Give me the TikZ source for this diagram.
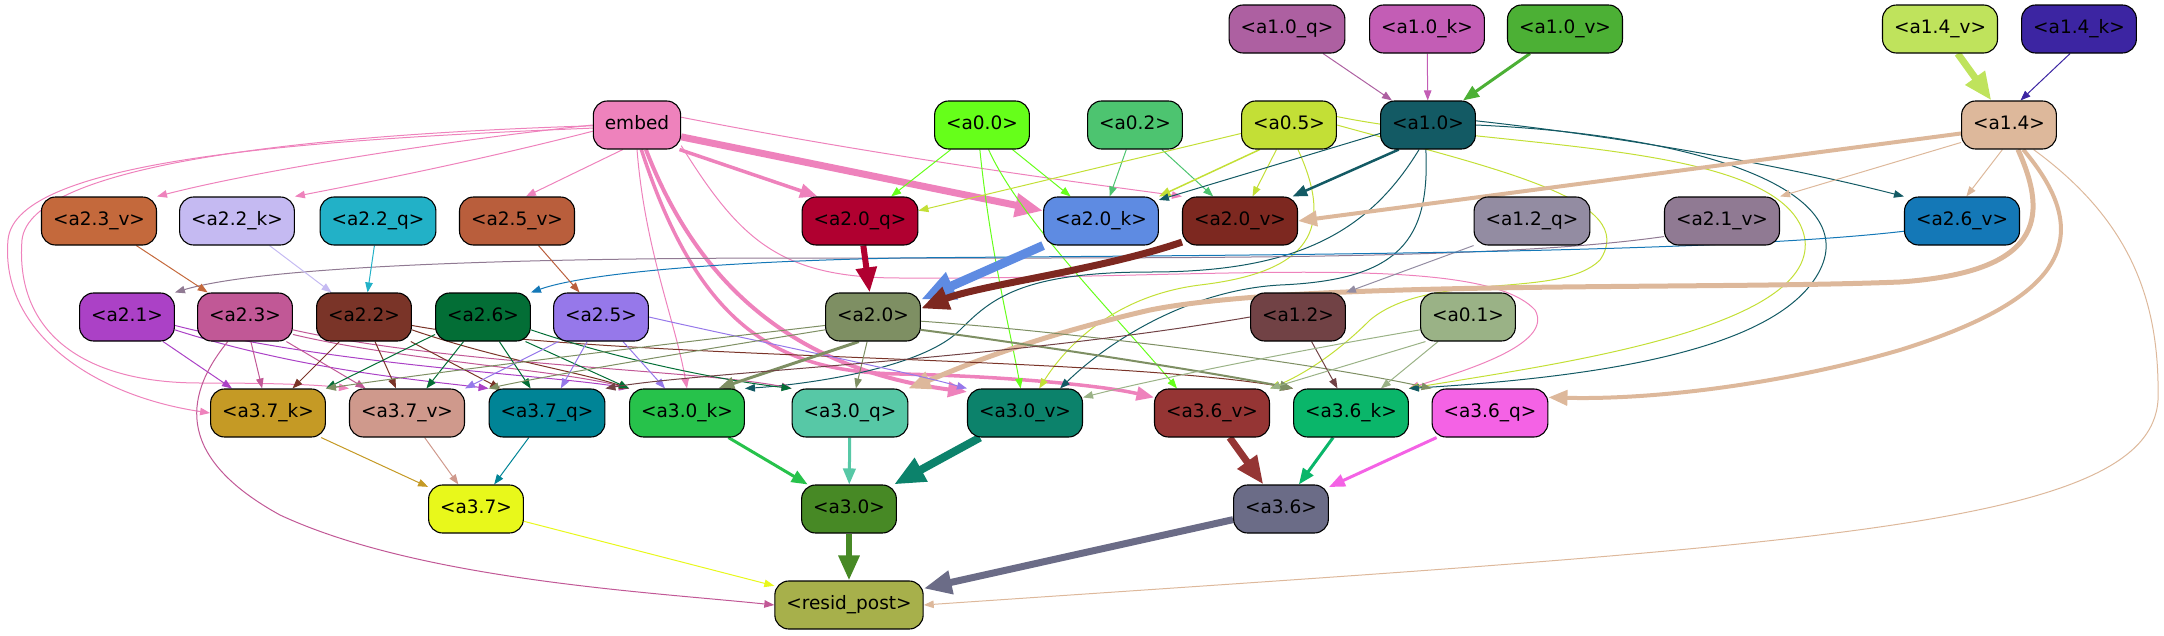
\documentclass[tikz,border=0pt]{standalone}
\usepackage{fontspec}
\newfontfamily\nodefnt{DejaVu Sans}
\usetikzlibrary{arrows.meta}
\pgfdeclarelayer{bg}
\pgfsetlayers{bg,main}
\definecolor{cemb}{HTML}{EE82BC}
\definecolor{c00}{HTML}{66FF1A}
\definecolor{c02}{HTML}{4DC470}
\definecolor{c05}{HTML}{C3DF36}
\definecolor{c10}{HTML}{135A64}
\definecolor{c10q}{HTML}{AD60A1}
\definecolor{c10k}{HTML}{C35DB5}
\definecolor{c10v}{HTML}{4CB035}
\definecolor{c14v}{HTML}{BFE35C}
\definecolor{c14k}{HTML}{3C25A2}
\definecolor{c14}{HTML}{DDB89B}
\definecolor{c23v}{HTML}{C4693C}
\definecolor{c22k}{HTML}{C5BAF2}
\definecolor{c22q}{HTML}{22B1C7}
\definecolor{c25v}{HTML}{B95E3C}
\definecolor{c20q}{HTML}{B00030}
\definecolor{c20k}{HTML}{5E8BE2}
\definecolor{c20v}{HTML}{7D2820}
\definecolor{c12q}{HTML}{938CA2}
\definecolor{c21v}{HTML}{907A93}
\definecolor{c26v}{HTML}{1478B7}
\definecolor{c21}{HTML}{AB41C6}
\definecolor{c23}{HTML}{C15896}
\definecolor{c22}{HTML}{7A3428}
\definecolor{c26}{HTML}{036E36}
\definecolor{c25}{HTML}{9678EA}
\definecolor{c20}{HTML}{7E8F63}
\definecolor{c12}{HTML}{714245}
\definecolor{c01}{HTML}{9AB286}
\definecolor{c37k}{HTML}{C59A25}
\definecolor{c37v}{HTML}{CF998C}
\definecolor{c37q}{HTML}{008496}
\definecolor{c30k}{HTML}{27C24B}
\definecolor{c30q}{HTML}{57C8A6}
\definecolor{c30v}{HTML}{0C826B}
\definecolor{c36v}{HTML}{953534}
\definecolor{c36k}{HTML}{0AB66A}
\definecolor{c36q}{HTML}{F462E5}
\definecolor{c37}{HTML}{E8F81B}
\definecolor{c30}{HTML}{478925}
\definecolor{c36}{HTML}{6B6C87}
\definecolor{cres}{HTML}{A7B04B}
\begin{document}
\begin{tikzpicture}[x=1pt,y=-1pt,
  nd/.style={draw=black, line width=1.1pt, fill=#1, rounded corners=14pt,
    minimum height=48pt, inner xsep=11.5pt, inner ysep=0pt,
    text height=13.5pt, text depth=4.5pt,
    font=\nodefnt\fontsize{18.5}{22}\selectfont},
  ln/.style={line width=#1pt, -{Triangle[length=7pt 3, width=5pt 2.5]}}
]
\useasboundingbox (0,0) rectangle (2164,635);
% nodes
\node[nd=c10q] (n10q) at (1287,29) {<a1.0\_q>};
\node[nd=c10k] (n10k) at (1427,29) {<a1.0\_k>};
\node[nd=c10v] (n10v) at (1565,29) {<a1.0\_v>};
\node[nd=c14v] (n14v) at (1940,29) {<a1.4\_v>};
\node[nd=c14k] (n14k) at (2079,29) {<a1.4\_k>};
\node[nd=cemb] (emb) at (637,125) {embed};
\node[nd=c00] (n00) at (982,125) {<a0.0>};
\node[nd=c02] (n02) at (1135,125) {<a0.2>};
\node[nd=c05] (n05) at (1289,125) {<a0.5>};
\node[nd=c10] (n10) at (1428,125) {<a1.0>};
\node[nd=c14] (n14) at (2009,125) {<a1.4>};
\node[nd=c23v] (n23v) at (99,221) {<a2.3\_v>};
\node[nd=c22k] (n22k) at (237,221) {<a2.2\_k>};
\node[nd=c22q] (n22q) at (378,221) {<a2.2\_q>};
\node[nd=c25v] (n25v) at (517,221) {<a2.5\_v>};
\node[nd=c20q] (n20q) at (860,221) {<a2.0\_q>};
\node[nd=c20k] (n20k) at (1101,221) {<a2.0\_k>};
\node[nd=c20v] (n20v) at (1240,221) {<a2.0\_v>};
\node[nd=c12q] (n12q) at (1532,221) {<a1.2\_q>};
\node[nd=c21v] (n21v) at (1722,221) {<a2.1\_v>};
\node[nd=c26v] (n26v) at (1962,221) {<a2.6\_v>};
\node[nd=c21] (n21) at (127,317) {<a2.1>};
\node[nd=c23] (n23) at (245,317) {<a2.3>};
\node[nd=c22] (n22) at (364,317) {<a2.2>};
\node[nd=c26] (n26) at (483,317) {<a2.6>};
\node[nd=c25] (n25) at (601,317) {<a2.5>};
\node[nd=c20] (n20) at (873,317) {<a2.0>};
\node[nd=c12] (n12) at (1298,317) {<a1.2>};
\node[nd=c01] (n01) at (1468,317) {<a0.1>};
\node[nd=c37k] (n37k) at (268,413) {<a3.7\_k>};
\node[nd=c37v] (n37v) at (407,413) {<a3.7\_v>};
\node[nd=c37q] (n37q) at (547,413) {<a3.7\_q>};
\node[nd=c30k] (n30k) at (687,413) {<a3.0\_k>};
\node[nd=c30q] (n30q) at (850,413) {<a3.0\_q>};
\node[nd=c30v] (n30v) at (1025,413) {<a3.0\_v>};
\node[nd=c36v] (n36v) at (1212,413) {<a3.6\_v>};
\node[nd=c36k] (n36k) at (1351,413) {<a3.6\_k>};
\node[nd=c36q] (n36q) at (1490,413) {<a3.6\_q>};
\node[nd=c37] (n37) at (476,509) {<a3.7>};
\node[nd=c30] (n30) at (849,509) {<a3.0>};
\node[nd=c36] (n36) at (1281,509) {<a3.6>};
\node[nd=cres] (res) at (849,605) {<resid\_post>};
\begin{pgfonlayer}{bg}
% top
\draw[ln=1,c10q] (n10q) -- (n10);
\draw[ln=1,c10k] (n10k) -- (n10);
\draw[ln=3,c10v] (n10v) -- (n10);
\draw[ln=7,c14v] (n14v) -- (n14);
\draw[ln=1,c14k] (n14k.250) -- (n14.65);
% embed
\draw[ln=1,cemb] (emb.west) .. controls (450,140) and (260,170) .. (n23v.north east);
\draw[ln=1,cemb] (emb.188) .. controls (480,160) and (380,180) .. (n22k.north east);
\draw[ln=1,cemb] (emb.240) -- (n25v.70);
\draw[ln=3.5,cemb] (emb.330) -- (n20q.150);
\draw[ln=7,cemb] (emb.345) -- (n20k.170);
\draw[ln=1,cemb] (emb.10) .. controls (900,160) and (1100,185) .. (n20v.north west);
\draw[ln=1,cemb] (emb.south) .. controls (645,250) and (675,320) .. (n30k.north);
\draw[ln=4,cemb] (emb.290) .. controls (700,290) and (800,370) .. (n30v.160);
\draw[ln=3.5,cemb] (emb.280) .. controls (700,330) and (780,372) .. (900,374) .. controls (1000,376) and (1100,385) .. (n36v.165);
\draw[ln=1,cemb] (emb.184) .. controls (300,140) and (15,160) .. (8,240) .. controls (0,330) and (90,395) .. (n37k.west);
\draw[ln=1,cemb] (emb.181) .. controls (300,135) and (30,165) .. (22,240) .. controls (15,330) and (80,383) .. (200,383) .. controls (280,383) and (320,385) .. (n37v.north west);
\draw[ln=1,cemb] (emb.335) .. controls (740,240) and (780,278) .. (900,278) .. controls (1200,280) and (1480,250) .. (1535,310) .. controls (1555,345) and (1460,372) .. (n36k.north east);
% a0.0
\draw[ln=1,c00] (n00) -- (n20q);
\draw[ln=1,c00] (n00) -- (n20k);
\draw[ln=1,c00] (n00.265) .. controls (990,250) and (1010,330) .. (n30v.100);
\draw[ln=1,c00] (n00.285) .. controls (1020,220) and (1120,320) .. (n36v.145);
% a0.2
\draw[ln=1,c02] (n02) -- (n20k);
\draw[ln=1,c02] (n02) -- (n20v);
% a0.5
\draw[ln=1,c05] (n05.190) -- (n20q.10);
\draw[ln=1.5,c05] (n05.220) -- (n20k.north east);
\draw[ln=1,c05] (n05) -- (n20v);
\draw[ln=1,c05] (n05.290) .. controls (1335,230) and (1310,272) .. (1200,285) .. controls (1120,295) and (1070,340) .. (n30v.60);
\draw[ln=1,c05] (n05.east) .. controls (1500,170) and (1640,200) .. (1600,260) .. controls (1560,300) and (1430,270) .. (1370,320) .. controls (1330,360) and (1295,378) .. (n36v.north east);
\draw[ln=1,c05] (n05.10) .. controls (1500,150) and (1790,140) .. (1805,240) .. controls (1815,330) and (1550,365) .. (n36k.north east);
% a1.0
\draw[ln=1,c10] (n10.190) -- (n20k.20);
\draw[ln=2.5,c10] (n10.220) -- (n20v.25);
\draw[ln=1,c10] (n10.5) .. controls (1650,140) and (1800,170) .. (n26v.north west);
\draw[ln=1,c10] (n10.east) .. controls (1700,135) and (1860,190) .. (1820,270) .. controls (1780,350) and (1600,377) .. (n36k.north east);
\draw[ln=1,c10] (n10.265) .. controls (1430,240) and (1400,280) .. (1280,285) .. controls (1190,290) and (1110,340) .. (n30v.35);
\draw[ln=1,c10] (n10.250) .. controls (1370,230) and (1300,272) .. (1150,272) .. controls (1020,272) and (990,300) .. (960,330) .. controls (920,370) and (800,385) .. (n30k.north east);
% a1.4
\draw[ln=4,c14] (n14.190) -- (n20v.east);
\draw[ln=1,c14] (n14.200) -- (n21v.north east);
\draw[ln=1,c14] (n14.255) -- (n26v.80);
\draw[ln=5,c14] (n14.290) .. controls (2050,220) and (2040,272) .. (1900,282) .. controls (1700,290) and (1300,280) .. (1150,310) .. controls (1020,340) and (950,372) .. (n30q.north east);
\draw[ln=4,c14] (n14.300) .. controls (2100,240) and (2060,300) .. (1900,350) .. controls (1780,385) and (1650,400) .. (n36q.15);
\draw[ln=1,c14] (n14.315) .. controls (2130,220) and (2160,300) .. (2158,400) .. controls (2150,530) and (1800,545) .. (res.east);
% level 2 inputs
\draw[ln=1,c12q] (n12q.south west) -- (n12.north east);
\draw[ln=1,c21v] (n21v.195) .. controls (1500,260) and (1200,258) .. (800,258) .. controls (450,258) and (250,270) .. (n21.north east);
\draw[ln=1,c26v] (n26v.190) .. controls (1700,255) and (1200,255) .. (900,258) .. controls (700,262) and (580,275) .. (n26.north east);
\draw[ln=1,c23v] (n23v) -- (n23);
\draw[ln=1,c22k] (n22k) -- (n22);
\draw[ln=1,c22q] (n22q) -- (n22);
\draw[ln=1,c25v] (n25v) -- (n25);
\draw[ln=6,c20q] (n20q) -- (n20);
\draw[ln=9,c20k] (n20k.south west) -- (n20.20);
\draw[ln=7,c20v] (n20v.200) .. controls (1100,270) and (980,285) .. (n20.10);
% level 2 -> level 3
\draw[ln=1,c21] (n21) -- (n37k);
\draw[ln=1,c21] (n21.345) .. controls (300,370) and (420,380) .. (n37q.north west);
\draw[ln=1,c21] (n21.350) .. controls (330,365) and (550,375) .. (n30k.north west);
\draw[ln=1,c23] (n23) -- (n37k);
\draw[ln=1,c23] (n23) -- (n37v);
\draw[ln=1,c23] (n23.340) .. controls (400,360) and (560,370) .. (n30k.north west);
\draw[ln=1,c23] (n23.345) .. controls (450,365) and (700,370) .. (n30q.north west);
\draw[ln=1,c23] (n23.235) .. controls (180,400) and (180,460) .. (280,515) .. controls (420,580) and (650,592) .. (res.west);
\draw[ln=1,c22] (n22) -- (n37k);
\draw[ln=1,c22] (n22) -- (n37v);
\draw[ln=1,c22] (n22) -- (n37q);
\draw[ln=1,c22] (n22.345) .. controls (500,360) and (580,372) .. (n30k.north west);
\draw[ln=1,c22] (n22.350) .. controls (600,360) and (1100,355) .. (n36k.north west);
\draw[ln=1,c26] (n26.200) -- (n37k.north east);
\draw[ln=1,c26] (n26) -- (n37v);
\draw[ln=1,c26] (n26) -- (n37q);
\draw[ln=1,c26] (n26.330) -- (n30k.north west);
\draw[ln=1,c26] (n26.345) .. controls (620,360) and (720,380) .. (n30q.north west);
\draw[ln=1,c25] (n25.210) -- (n37v.north east);
\draw[ln=1,c25] (n25) -- (n37q);
\draw[ln=1,c25] (n25) -- (n30k);
\draw[ln=1,c25] (n25.east) .. controls (750,340) and (900,370) .. (n30v.north west);
\draw[ln=1,c20] (n20.190) .. controls (700,340) and (450,370) .. (n37k.north east);
\draw[ln=1,c20] (n20.195) .. controls (700,350) and (550,375) .. (n37q.north west);
\draw[ln=3,c20] (n20.240) -- (n30k.38);
\draw[ln=1,c20] (n20) -- (n30q);
\draw[ln=2,c20] (n20.345) .. controls (1000,340) and (1200,370) .. (n36k.north west);
\draw[ln=1,c20] (n20.355) .. controls (1050,330) and (1300,360) .. (n36q.north west);
\draw[ln=1,c12] (n12) -- (n36k);
\draw[ln=1,c12] (n12.west) .. controls (1000,360) and (700,372) .. (n37q.north east);
\draw[ln=1,c01] (n01.195) .. controls (1300,350) and (1150,380) .. (n30v.15);
\draw[ln=1,c01] (n01.210) -- (n36v.north east);
\draw[ln=1,c01] (n01) -- (n36k);
% level 3 -> level 4
\draw[ln=1,c37k] (n37k) -- (n37);
\draw[ln=1,c37v] (n37v) -- (n37);
\draw[ln=1,c37q] (n37q) -- (n37);
\draw[ln=3,c30k] (n30k) -- (n30);
\draw[ln=3,c30q] (n30q) -- (n30);
\draw[ln=8,c30v] (n30v) -- (n30);
\draw[ln=7,c36v] (n36v) -- (n36);
\draw[ln=3,c36k] (n36k) -- (n36);
\draw[ln=3,c36q] (n36q) -- (n36);
\draw[ln=1,c37] (n37) -- (res);
\draw[ln=6,c30] (n30) -- (res);
\draw[ln=7,c36] (n36) -- (res);
\end{pgfonlayer}
\end{tikzpicture}
\end{document}
